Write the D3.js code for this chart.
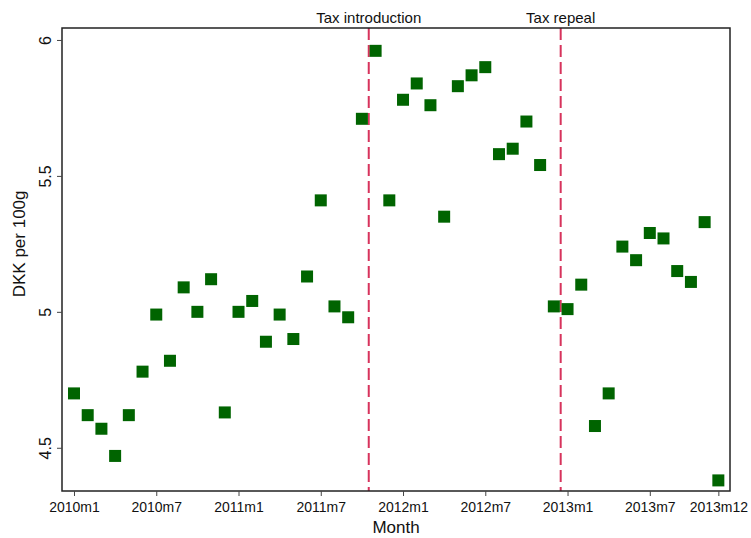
<!DOCTYPE html>
<html>
<head>
<meta charset="utf-8">
<script src="https://cdn.jsdelivr.net/npm/d3@7"></script>
<style>
  body { margin: 0; background: #fff; }
  text { font-family: Arial, "Liberation Sans", sans-serif; fill: #111; }
</style>
</head>
<body>
<svg id="chart" width="751" height="538"></svg>
<script>
// month index 0 = 2010m1 ... 47 = 2013m12
const months = d3.range(48);
const prices = [
  4.70, 4.62, 4.57, 4.47, 4.62, 4.78, 4.99, 4.82, 5.09, 5.00, 5.12, 4.63,
  5.00, 5.04, 4.89, 4.99, 4.90, 5.13, 5.41, 5.02, 4.98, 5.71, 5.96, 5.41,
  5.78, 5.84, 5.76, 5.35, 5.83, 5.87, 5.90, 5.58, 5.60, 5.70, 5.54, 5.02,
  5.01, 5.10, 4.58, 4.70, 5.24, 5.19, 5.29, 5.27, 5.15, 5.11, 5.33, 4.38
];
const xTicks = [0, 6, 12, 18, 24, 30, 36, 42, 47];
const yTicks = [4.5, 5, 5.5, 6];
const events = [
  { label: "Tax introduction", month: 21.5 },
  { label: "Tax repeal", month: 35.5 }
];

const monthLabel = m => `${2010 + Math.floor(m / 12)}m${(m % 12) + 1}`;

const svg = d3.select("#chart");
const margin = { top: 28, right: 21, bottom: 47, left: 62 };
const width = 751 - margin.left - margin.right;
const height = 538 - margin.top - margin.bottom;

const x = d3.scaleLinear()
    .domain([-0.875, 47.85])
    .range([margin.left, margin.left + width]);

const y = d3.scaleLinear()
    .domain([4.341, 6.044])
    .range([margin.top + height, margin.top]);

// event lines
svg.append("g")
    .selectAll("line")
    .data(events)
    .join("line")
    .attr("x1", d => x(d.month))
    .attr("x2", d => x(d.month))
    .attr("y1", margin.top)
    .attr("y2", margin.top + height)
    .attr("stroke", "#d7335c")
    .attr("stroke-width", 2)
    .attr("stroke-dasharray", "12,5");

svg.append("g")
    .selectAll("text")
    .data(events)
    .join("text")
    .attr("x", d => x(d.month))
    .attr("y", 23)
    .attr("text-anchor", "middle")
    .attr("font-size", 15)
    .text(d => d.label);

// markers
const size = 12;
svg.append("g")
    .selectAll("rect")
    .data(months)
    .join("rect")
    .attr("x", d => x(d) - size / 2)
    .attr("y", d => y(prices[d]) - size / 2)
    .attr("width", size)
    .attr("height", size)
    .attr("fill", "#006400");

// frame
svg.append("rect")
    .attr("x", margin.left)
    .attr("y", margin.top)
    .attr("width", width)
    .attr("height", height)
    .attr("fill", "none")
    .attr("stroke", "#222")
    .attr("stroke-width", 1.5);

// axes
const xAxis = svg.append("g")
    .attr("transform", `translate(0,${margin.top + height})`)
    .call(d3.axisBottom(x).tickValues(xTicks).tickFormat(monthLabel).tickSize(5).tickPadding(6));
xAxis.select(".domain").remove();
xAxis.selectAll("line").attr("stroke", "#444");
xAxis.selectAll("text").attr("font-size", 14).attr("font-family", "Arial, 'Liberation Sans', sans-serif").attr("fill", "#111");

const yAxis = svg.append("g")
    .attr("transform", `translate(${margin.left},0)`)
    .call(d3.axisLeft(y).tickValues(yTicks).tickFormat(d3.format("")).tickSize(5));
yAxis.select(".domain").remove();
yAxis.selectAll("line").attr("stroke", "#444");
yAxis.selectAll("text")
    .attr("font-size", 16)
    .attr("font-family", "Arial, 'Liberation Sans', sans-serif")
    .attr("fill", "#111")
    .attr("text-anchor", "middle")
    .attr("dy", null)
    .attr("x", null)
    .attr("transform", "translate(-11,0) rotate(-90)");

// axis titles
svg.append("text")
    .attr("x", margin.left + width / 2)
    .attr("y", 533)
    .attr("text-anchor", "middle")
    .attr("font-size", 17)
    .text("Month");

svg.append("text")
    .attr("transform", `translate(25,${y(5.25)}) rotate(-90)`)
    .attr("text-anchor", "middle")
    .attr("font-size", 17)
    .text("DKK per 100g");
</script>
</body>
</html>
